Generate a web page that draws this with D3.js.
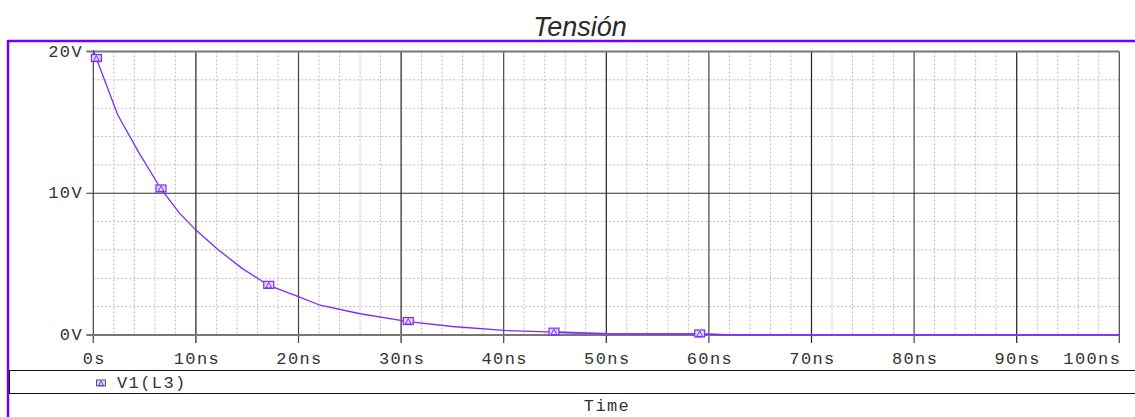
<!DOCTYPE html>
<html lang="es">
<head>
    <meta charset="UTF-8">
    <title>Tensión</title>
    <script src="https://cdn.jsdelivr.net/npm/d3@7"></script>
    <style>
        body { margin: 0; background: #fff; }
        text { font-family: "Liberation Mono", "Courier New", monospace; }
    </style>
</head>
<body>
<script>

    // datos (ns, V)
    var timeNs = [0, 0.3, 2.4, 4.5, 6.6, 8.4, 10, 12.2, 14.5, 17.1, 20, 22.1, 26, 30.7, 35, 40, 44.9, 50, 55, 59.1, 62, 70, 80, 90, 100];
    var voltV  = [20.1, 19.5, 15.5, 12.8, 10.3, 8.6, 7.4, 6.0, 4.7, 3.5, 2.7, 2.1, 1.5, 0.95, 0.6, 0.32, 0.2, 0.08, 0.07, 0.07, 0, 0, 0, 0, 0];
    var markerIdx = [1, 4, 9, 13, 16, 19];

    var xTicks = [0, 10, 20, 30, 40, 50, 60, 70, 80, 90, 100];
    var xTickLabels = ["0s", "10ns", "20ns", "30ns", "40ns", "50ns", "60ns", "70ns", "80ns", "90ns", "100ns"];
    var yTicks = [0, 10, 20];
    var yTickLabels = ["0V", "10V", "20V"];

    var title = "Tensión";
    var traceName = "V1(L3)";
    var xTitle = "Time";

    // lienzo
    var width = 1135;
    var height = 417;
    var svg = d3.select("body")
        .append("svg")
        .attr("width", width)
        .attr("height", height);

    var purple = "#6e00ff";
    var trace = "#7a2cff";
    var ink = "#333";

    var plotLeft = 93.3, plotRight = 1119.3, plotTop = 51.5, plotBottom = 335;

    var x = d3.scaleLinear().domain([0, 100]).range([plotLeft, plotRight]);
    var y = d3.scaleLinear().domain([0, 20]).range([plotBottom, plotTop]);

    // titulo
    svg.append("text")
        .attr("x", 580)
        .attr("y", 36)
        .attr("text-anchor", "middle")
        .style("font-family", "'Liberation Sans Narrow', 'Liberation Sans', sans-serif")
        .style("font-style", "italic")
        .style("font-size", "27px")
        .style("fill", "#2a2a2a")
        .text(title);

    // marco morado
    svg.append("line")
        .attr("x1", 8).attr("x2", width)
        .attr("y1", 41).attr("y2", 41)
        .style("stroke", purple).style("stroke-width", 2.5);
    svg.append("line")
        .attr("x1", 8).attr("x2", 8)
        .attr("y1", 40).attr("y2", height)
        .style("stroke", purple).style("stroke-width", 2.5);

    // rejilla menor
    var minorX = d3.range(2, 100, 2).filter(function (d) { return d % 10 !== 0; });
    var minorY = d3.range(2, 20, 2).filter(function (d) { return d % 10 !== 0; });

    svg.append("g").selectAll("line")
        .data(minorX)
        .enter()
        .append("line")
        .attr("x1", function (d) { return x(d); })
        .attr("x2", function (d) { return x(d); })
        .attr("y1", plotTop).attr("y2", plotBottom)
        .style("stroke", "#bbb")
        .style("stroke-dasharray", "2,2");

    svg.append("g").selectAll("line")
        .data(minorY)
        .enter()
        .append("line")
        .attr("x1", plotLeft).attr("x2", plotRight)
        .attr("y1", function (d) { return y(d); })
        .attr("y2", function (d) { return y(d); })
        .style("stroke", "#bbb")
        .style("stroke-dasharray", "2,2");

    // rejilla mayor vertical + marcas del eje x
    svg.append("g").selectAll("line")
        .data(xTicks)
        .enter()
        .append("line")
        .attr("x1", function (d) { return x(d); })
        .attr("x2", function (d) { return x(d); })
        .attr("y1", plotTop).attr("y2", plotBottom + 8)
        .style("stroke", function (d, i) { return i % 2 ? "#222" : "#444"; })
        .style("stroke-width", 1.2);

    // rejilla mayor horizontal + marcas del eje y
    svg.append("g").selectAll("line")
        .data(yTicks)
        .enter()
        .append("line")
        .attr("x1", plotLeft - 7).attr("x2", plotRight)
        .attr("y1", function (d) { return y(d); })
        .attr("y2", function (d) { return y(d); })
        .style("stroke", function (d) { return d === 10 ? "#333" : "#777"; })
        .style("stroke-width", function (d) { return d === 10 ? 1.2 : 2; });

    // etiquetas
    svg.append("g").selectAll("text")
        .data(xTicks)
        .enter()
        .append("text")
        .attr("x", function (d, i) { return i === xTicks.length - 1 ? x(d) + 2 : x(d) + 1; })
        .attr("y", 364)
        .attr("text-anchor", function (d, i) { return i === xTicks.length - 1 ? "end" : "middle"; })
        .style("font-size", "17px")
        .style("letter-spacing", "1.4px")
        .style("fill", ink)
        .text(function (d, i) { return xTickLabels[i]; });

    svg.append("g").selectAll("text")
        .data(yTicks)
        .enter()
        .append("text")
        .attr("x", 83)
        .attr("y", function (d) { return y(d) + 5; })
        .attr("text-anchor", "end")
        .style("font-size", "17px")
        .style("letter-spacing", "1.4px")
        .style("fill", ink)
        .text(function (d, i) { return yTickLabels[i]; });

    // curva
    var pts = timeNs.map(function (t, i) { return [t, voltV[i]]; });
    var line = d3.line()
        .x(function (d) { return x(d[0]); })
        .y(function (d) { return y(d[1]); });

    // tramo final sobre el eje (mas grueso, como en la referencia)
    svg.append("path")
        .datum(pts.slice(markerIdx[4]))
        .attr("d", line)
        .style("fill", "none")
        .style("stroke", "#8a5cf0")
        .style("stroke-width", 2.2)
        .style("opacity", 0.8);

    svg.append("path")
        .datum(pts)
        .attr("d", line)
        .style("fill", "none")
        .style("stroke", trace)
        .style("stroke-width", 1.3);

    // marcadores
    function marker(g) {
        g.append("rect")
            .attr("x", -5).attr("y", -4)
            .attr("width", 10).attr("height", 7)
            .style("fill", "#e2d6ff")
            .style("stroke", trace)
            .style("stroke-width", 1.2);
        g.append("path")
            .attr("d", "M-3,2.5L0,-3L3,2.5Z")
            .style("fill", "none")
            .style("stroke", trace)
            .style("stroke-width", 1);
    }

    svg.append("g").selectAll("g")
        .data(markerIdx)
        .enter()
        .append("g")
        .attr("transform", function (d) { return "translate(" + x(timeNs[d]) + "," + y(voltV[d]) + ")"; })
        .each(function () { marker(d3.select(this)); });

    // leyenda
    svg.append("line")
        .attr("x1", 9).attr("x2", width)
        .attr("y1", 370.5).attr("y2", 370.5)
        .style("stroke", "#111");
    svg.append("line")
        .attr("x1", 9).attr("x2", width)
        .attr("y1", 393.5).attr("y2", 393.5)
        .style("stroke", "#111");
    svg.append("line")
        .attr("x1", 9.5).attr("x2", 9.5)
        .attr("y1", 370.5).attr("y2", 393.5)
        .style("stroke", "#111");

    var lg = svg.append("g").attr("transform", "translate(101,383)");
    lg.append("rect")
        .attr("x", -4.5).attr("y", -3)
        .attr("width", 9).attr("height", 6)
        .style("fill", "#e2d6ff")
        .style("stroke", "#555")
        .style("stroke-width", 1);
    lg.append("path")
        .attr("d", "M-2.5,2.5L0,-2L2.5,2.5Z")
        .style("fill", "none")
        .style("stroke", trace);

    svg.append("text")
        .attr("x", 117)
        .attr("y", 388)
        .style("font-size", "17px")
        .style("letter-spacing", "1.4px")
        .style("fill", ink)
        .text(traceName);

    svg.append("text")
        .attr("x", 607)
        .attr("y", 411)
        .attr("text-anchor", "middle")
        .style("font-size", "17px")
        .style("letter-spacing", "1.4px")
        .style("fill", ink)
        .text(xTitle);

</script>
</body>
</html>
